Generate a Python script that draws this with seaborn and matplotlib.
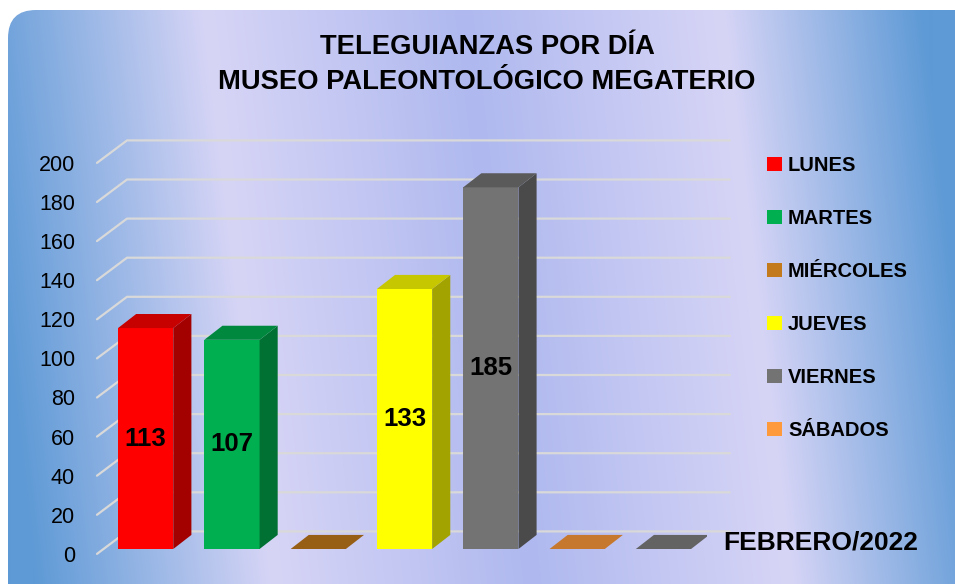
import numpy as np
import matplotlib
matplotlib.use("Agg")
import matplotlib.pyplot as plt
import seaborn as sns
from matplotlib.patches import Polygon, Patch, FancyBboxPatch
from matplotlib.colors import to_rgb

# Datos del gráfico
dias = ["LUNES", "MARTES", "MIÉRCOLES", "JUEVES", "VIERNES", "SÁBADOS", "DOMINGOS"]
teleguianzas = [113, 107, 0, 133, 185, 0, 0]
colores = ["#ff0000", "#00b050", "#c27a1c", "#ffff00", "#737373", "#ff9a3c", "#7f7f7f"]
dias_leyenda = dias[:6]
marcas_y = list(range(0, 201, 20))
titulo = ["TELEGUIANZAS POR DÍA", "MUSEO PALEONTOLÓGICO MEGATERIO"]
periodo = "FEBRERO/2022"

sns.set_style("white")
plt.rcParams["font.family"] = ["Liberation Sans", "DejaVu Sans"]
plt.rcParams["text.color"] = "black"

W, H = 955, 584
fig = plt.figure(figsize=(W / 100, H / 100), dpi=100)
fig.patch.set_facecolor("white")

# Fondo degradado con esquinas redondeadas
bg = fig.add_axes([0, 0, 1, 1])
bg.set_xlim(0, W)
bg.set_ylim(H, 0)
bg.axis("off")
yy, xx = np.mgrid[0:H, 0:W]
t = (xx - 0.12 * (yy - H / 2)) / W
stops = [0.0, 0.25, 0.52, 0.79, 1.0]
cols = np.array([to_rgb(c) for c in ["#5e9ad6", "#d7d5f6", "#afb9ef", "#d7d5f6", "#5e9ad6"]])
img = np.dstack([np.interp(t, stops, cols[:, i]) for i in range(3)])
im = bg.imshow(img, extent=[0, W, H, 0], aspect="auto")
marco = FancyBboxPatch((8, 10), 990, 620, boxstyle="round,pad=0,rounding_size=28",
                       facecolor="none", edgecolor="none")
bg.add_patch(marco)
im.set_clip_path(marco)

# Ejes principales (escala: 1.955 px por unidad, 86.3 px por categoría)
px_unit, cat_px, ax_left = 1.955, 86.3, 102.5
y_lo, y_hi = -12, 215
bottom_px = 549 - y_lo * px_unit
top_px = 549 - y_hi * px_unit
ax = fig.add_axes([ax_left / W, (H - bottom_px) / H, 7 * cat_px / W, (bottom_px - top_px) / H])
ax.patch.set_alpha(0)

sns.barplot(x=dias, y=teleguianzas, hue=dias, palette=colores, legend=False,
            width=0.64, saturation=1, edgecolor="none", zorder=3, ax=ax)

# Efecto 3D: cara lateral y superior
dx, dy = 0.21, 7.2
for bar in list(ax.patches):
    x0, w, h = bar.get_x(), bar.get_width(), bar.get_height()
    base = np.array(to_rgb(bar.get_facecolor()))
    lado = Polygon([(x0 + w, 0), (x0 + w + dx, dy), (x0 + w + dx, h + dy), (x0 + w, h)],
                   closed=True, facecolor=base * 0.64, edgecolor="none", zorder=3)
    tapa = Polygon([(x0, h), (x0 + dx, h + dy), (x0 + w + dx, h + dy), (x0 + w, h)],
                   closed=True, facecolor=base * 0.78, edgecolor="none", zorder=3)
    ax.add_patch(lado)
    ax.add_patch(tapa)

# Líneas de cuadrícula en perspectiva
for v in marcas_y:
    ax.plot([-0.564, -0.216, 6.77], [v - 2.5, v + 9, v + 9], color="#d9d9d9",
            lw=1.6, zorder=1, clip_on=False)

# Etiquetas de valores
for i, v in enumerate(teleguianzas):
    if v > 0:
        ax.text(i, v / 2, str(v), ha="center", va="center", fontsize=18.5,
                fontweight="bold", color="black", zorder=5)

ax.set_xlim(-0.5, 6.5)
ax.set_ylim(y_lo, y_hi)
ax.set_xticks([])
ax.set_yticks([v - 2.5 for v in marcas_y], [str(v) for v in marcas_y])
ax.tick_params(axis="y", length=0, pad=19.8, labelsize=15.5, labelcolor="black")
ax.set_xlabel("")
ax.set_ylabel("")
for s in ax.spines.values():
    s.set_visible(False)

# Leyenda
handles = [Patch(facecolor=c, edgecolor="none") for c in colores[:6]]
fig.legend(handles, dias_leyenda, loc="upper left", bbox_to_anchor=(767 / W, 1 - 156 / H),
           frameon=False, borderpad=0, borderaxespad=0, handlelength=0.72,
           handleheight=0.72, handletextpad=0.32, labelspacing=1.69,
           labelcolor="black", prop=dict(weight="bold", size=14.5))

# Títulos
fig.text(487 / W, 1 - 47 / H, titulo[0], ha="center", va="center", fontsize=19.7,
         fontweight="bold", color="black")
fig.text(487 / W, 1 - 82 / H, titulo[1], ha="center", va="center", fontsize=19.7,
         fontweight="bold", color="black")
fig.text(820.5 / W, 1 - 543 / H, periodo, ha="center", va="center", fontsize=19,
         fontweight="bold", color="black")

fig.savefig("out.png", dpi=100)
